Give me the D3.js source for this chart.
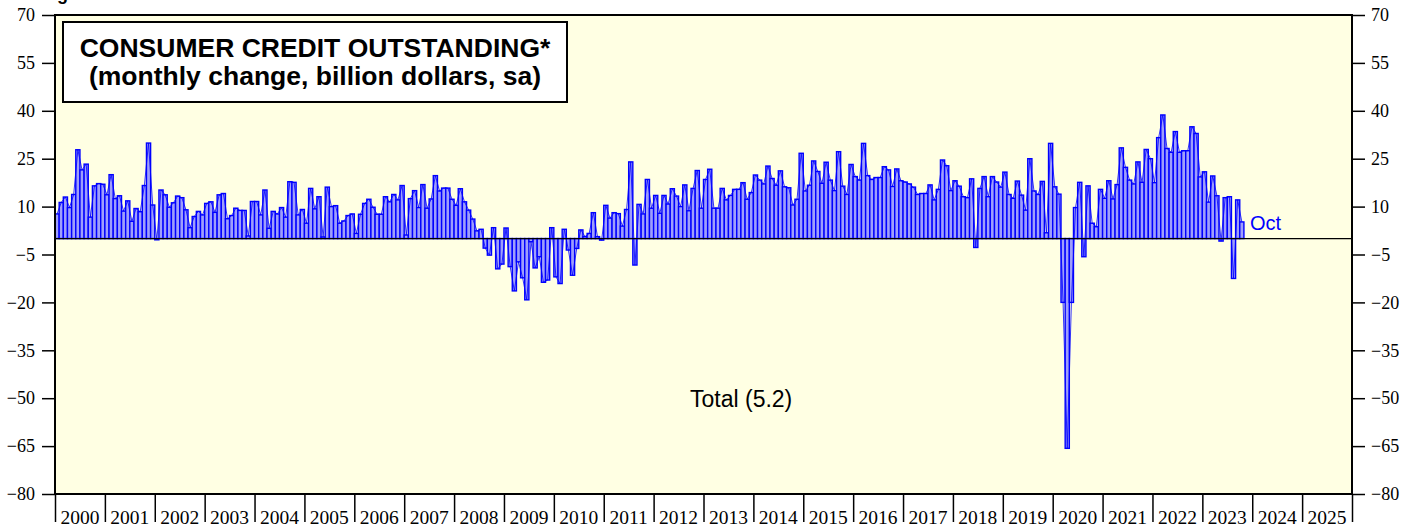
<!DOCTYPE html>
<html>
<head>
<meta charset="utf-8">
<script src="https://cdn.jsdelivr.net/npm/d3@7"></script>
<style>
body { margin: 0; background: #fff; }
</style>
</head>
<body>
<div id="chart"></div>
<script>
// monthly change in consumer credit, billion dollars
const v2000 = [7.7, 11.3, 13.0, 9.7, 13.8, 27.8, 21.5, 23.3, 6.7, 16.5, 17.2, 17.0];
const v2001 = [13.7, 20.0, 12.5, 13.4, 8.6, 11.8, 5.4, 9.4, 8.4, 16.6, 29.9, 10.5];
const v2002 = [-0.4, 15.2, 13.7, 9.8, 11.2, 13.3, 12.8, 9.0, 3.4, 6.9, 8.5, 7.4];
const v2003 = [11.0, 11.5, 8.2, 13.7, 14.1, 6.2, 7.2, 9.5, 8.8, 8.8, 0.8, 11.6];
const v2004 = [11.6, 7.4, 15.2, 3.2, 8.5, 7.7, 9.7, 6.7, 17.8, 17.6, 7.4, 9.1];
const v2005 = [4.8, 15.7, 9.3, 13.1, 0.5, 16.1, 10.0, 10.3, 4.8, 5.5, 7.2, 7.7];
const v2006 = [1.6, 7.6, 11.0, 12.3, 9.8, 7.6, 7.6, 13.1, 11.5, 13.8, 12.1, 16.6];
const v2007 = [1.1, 12.5, 15.0, 9.7, 16.9, 9.5, 12.4, 19.7, 14.9, 15.8, 15.8, 12.3];
const v2008 = [10.4, 15.6, 11.5, 8.9, 6.1, 2.4, 2.9, -3.0, -5.2, 3.4, -9.5, -8.0];
const v2009 = [3.3, -8.8, -16.4, -7.3, -12.3, -19.2, -1.0, -9.2, -5.7, -13.7, -13.0, 3.4];
const v2010 = [-12.0, -14.1, 2.9, -3.6, -11.5, -3.1, 2.7, 0.6, 1.6, 8.1, 0.6, -0.5];
const v2011 = [10.4, 6.4, 8.1, 7.8, 3.9, 9.1, 24.0, -8.3, 10.7, 7.7, 18.5, 9.5];
const v2012 = [13.5, 7.9, 13.5, 10.8, 15.6, 13.3, 10.0, 16.8, 8.7, 15.7, 21.3, 9.5];
const v2013 = [18.5, 21.7, 9.5, 9.5, 15.7, 12.1, 13.5, 15.4, 15.4, 17.5, 12.3, 14.4];
const v2014 = [19.9, 18.3, 17.1, 22.7, 18.8, 16.7, 21.2, 16.2, 15.9, 10.5, 12.3, 26.7];
const v2015 = [14.9, 16.7, 24.3, 21.0, 17.3, 23.9, 18.3, 15.0, 27.2, 16.4, 13.8, 23.2];
const v2016 = [19.4, 18.3, 29.8, 19.7, 18.5, 19.1, 19.1, 22.5, 21.5, 16.3, 21.8, 18.1];
const v2017 = [17.7, 17.1, 16.1, 13.8, 14.1, 14.1, 16.8, 12.1, 15.4, 24.6, 22.8, 15.0];
const v2018 = [18.1, 16.4, 13.1, 12.8, 18.7, -2.8, 15.7, 19.4, 13.1, 19.4, 17.7, 16.1];
const v2019 = [20.8, 13.8, 12.6, 18.0, 13.6, 8.9, 25.0, 14.9, 13.8, 17.9, 1.8, 29.8];
const v2020 = [16.2, 13.9, -20.0, -65.7, -20.0, 9.7, 17.6, -5.7, 16.5, 4.8, 3.7, 15.4];
const v2021 = [12.6, 18.1, 12.4, 16.9, 28.4, 22.3, 18.3, 17.1, 24.0, 17.6, 27.9, 25.0];
const v2022 = [17.5, 31.6, 38.7, 28.2, 27.0, 33.5, 27.0, 27.5, 27.5, 35.0, 32.9, 19.3];
const v2023 = [20.9, 11.4, 19.6, 13.4, -0.8, 12.8, 13.1, -12.5, 12.1, 5.2];

const yTicks = [70, 55, 40, 25, 10, -5, -20, -35, -50, -65, -80];
const years = d3.range(2000, 2026);

const series = [].concat(v2000, v2001, v2002, v2003, v2004, v2005, v2006, v2007,
  v2008, v2009, v2010, v2011, v2012, v2013, v2014, v2015, v2016, v2017, v2018,
  v2019, v2020, v2021, v2022, v2023);

const w = 1418;
const h = 529;
const pLeft = 55, pRight = 1352, pTop = 15, pBottom = 494;

const svg = d3.select("#chart").append("svg").attr("width", w).attr("height", h);

const x = d3.scaleLinear().domain([2000, 2026]).range([pLeft, pRight]);
const y = d3.scaleLinear().domain([-80, 70]).range([pBottom, pTop]);
const serif = "'Liberation Serif', 'Times New Roman', serif";
const sans = "'Liberation Sans', Arial, sans-serif";

// figure caption, cut off by the top edge in the original
svg.append("text")
  .attr("x", 41).attr("y", 0)
  .style("font-family", sans).style("font-weight", "bold").style("font-size", "18px")
  .text("Figure 4.");

svg.append("rect")
  .attr("x", pLeft).attr("y", pTop)
  .attr("width", pRight - pLeft).attr("height", pBottom - pTop)
  .attr("fill", "#ffffe3");

// bars
svg.append("g")
  .selectAll("rect")
  .data(series)
  .enter()
  .append("rect")
  .attr("x", (d, i) => x(2000 + i / 12))
  .attr("width", (d, i) => x(2000 + (i + 1) / 12) - x(2000 + i / 12))
  .attr("y", (d) => y(Math.max(d, 0)))
  .attr("height", (d) => Math.abs(y(d) - y(0)))
  .attr("fill", "#9f9ffb")
  .attr("stroke", "#0000ff")
  .attr("stroke-width", 1.4);

const line = d3.line()
  .x((d, i) => x(2000 + (i + 0.5) / 12))
  .y((d) => y(d));
svg.append("path")
  .datum(series)
  .attr("d", line)
  .attr("fill", "none")
  .attr("stroke", "#0000ff")
  .attr("stroke-width", 0.8);

// zero line
svg.append("line")
  .attr("x1", pLeft).attr("x2", pRight)
  .attr("y1", y(0)).attr("y2", y(0))
  .attr("stroke", "#000").attr("stroke-width", 1.3);

// frame
svg.append("rect")
  .attr("x", pLeft).attr("y", pTop)
  .attr("width", pRight - pLeft).attr("height", pBottom - pTop)
  .attr("fill", "none").attr("stroke", "#000").attr("stroke-width", 2);

// axes
const yl = svg.append("g")
  .attr("transform", `translate(${pLeft},0)`)
  .call(d3.axisLeft(y).tickValues(yTicks).tickSize(13).tickPadding(7));
const yr = svg.append("g")
  .attr("transform", `translate(${pRight},0)`)
  .call(d3.axisRight(y).tickValues(yTicks).tickSize(13).tickPadding(6));
const xb = svg.append("g")
  .attr("transform", `translate(0,${pBottom})`)
  .call(d3.axisBottom(x).tickValues(d3.range(2000, 2027)).tickSize(28).tickFormat(""));
[yl, yr, xb].forEach((g) => {
  g.select(".domain").remove();
  g.selectAll("line").attr("stroke", "#000").attr("stroke-width", 1.5);
  g.selectAll("text").style("font-family", serif).style("font-size", "18px").attr("fill", "#000");
});

svg.append("g")
  .selectAll("text")
  .data(years)
  .enter()
  .append("text")
  .attr("x", (d) => x(d + 0.5))
  .attr("y", 524)
  .attr("text-anchor", "middle")
  .style("font-family", serif).style("font-size", "19.5px")
  .text((d) => d);

// title box
svg.append("rect")
  .attr("x", 63).attr("y", 22).attr("width", 504).attr("height", 80)
  .attr("fill", "#fff").attr("stroke", "#000").attr("stroke-width", 2);
svg.append("text")
  .attr("x", 315).attr("y", 57).attr("text-anchor", "middle")
  .style("font-family", sans).style("font-weight", "bold").style("font-size", "26.5px")
  .text("CONSUMER CREDIT OUTSTANDING*");
svg.append("text")
  .attr("x", 315).attr("y", 85).attr("text-anchor", "middle")
  .style("font-family", sans).style("font-weight", "bold").style("font-size", "26.5px")
  .text("(monthly change, billion dollars, sa)");

svg.append("text")
  .attr("x", 1250).attr("y", 230)
  .style("font-family", sans).style("font-size", "20px").attr("fill", "#0000ff")
  .text("Oct");

svg.append("text")
  .attr("x", 690).attr("y", 407)
  .style("font-family", sans).style("font-size", "23px")
  .text("Total (5.2)");
</script>
</body>
</html>
